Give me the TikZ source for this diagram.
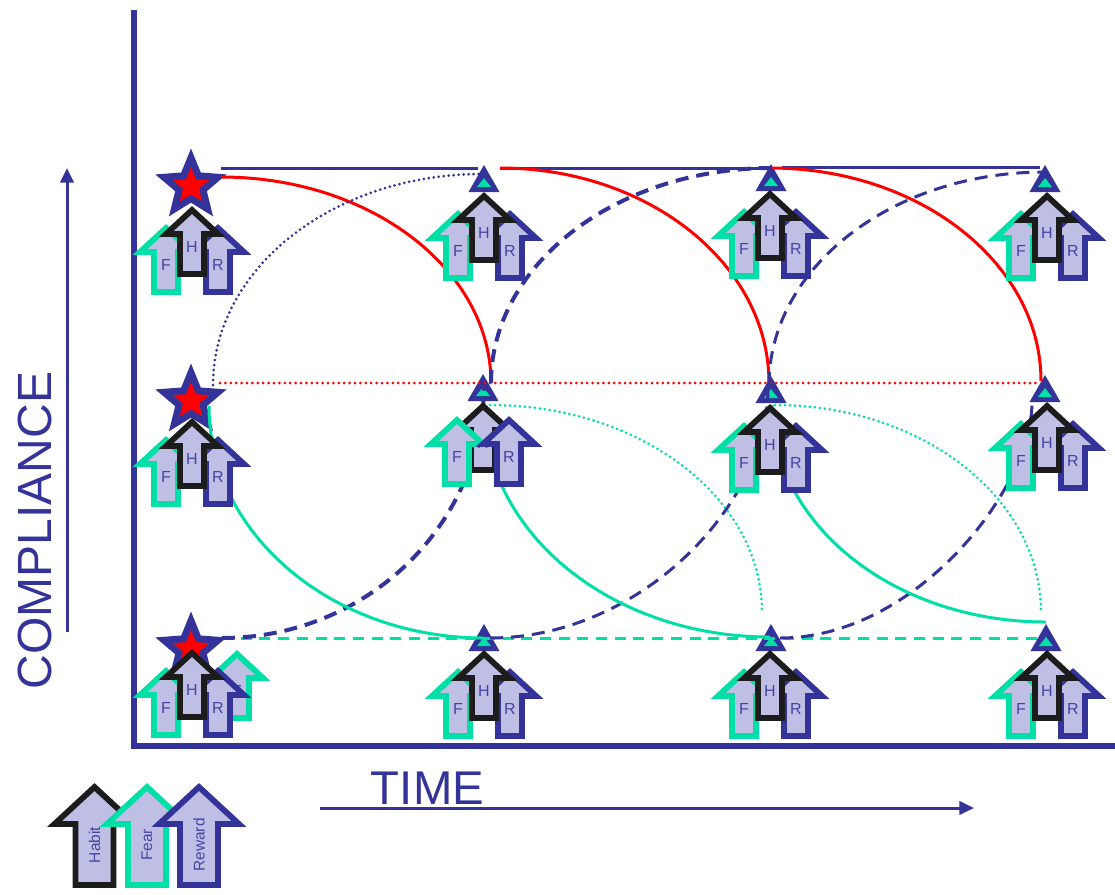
\documentclass[tikz,border=0pt]{standalone}
\usepackage{fontspec}
\setmainfont{Liberation Sans}
\usetikzlibrary{calc,shapes.geometric,arrows.meta}
\definecolor{navy}{HTML}{333399}
\definecolor{mint}{HTML}{00DFA5}
\definecolor{lilac}{HTML}{BFBFE6}
\definecolor{ink}{HTML}{1C1C1C}
\definecolor{redc}{HTML}{FF0000}
\definecolor{labelc}{HTML}{4444A4}
\tikzset{
  px/.style={line width=#1*0.75pt},
  upshape/.style={draw=#1,fill=lilac,px=5.8,miter limit=10,line join=miter},
  lab/.style={text=labelc,font=\fontsize{12}{12}\selectfont,inner sep=0pt},
  leglab/.style={text=labelc,font=\fontsize{11.6}{12}\selectfont,inner sep=0pt,rotate=90},
  bigstar/.style={star,star points=5,star point ratio=2.25,fill=navy,inner sep=0pt,outer sep=0pt,minimum size=75*0.75pt},
  redstar/.style={star,star points=5,star point ratio=2.25,fill=redc,inner sep=0pt,outer sep=0pt,minimum size=38*0.75pt},
  axisline/.style={navy,px=6},
  guide/.style={navy,px=3,-{Triangle[length=11pt,width=10pt]}},
  solidnavy/.style={navy,px=3},
  redarc/.style={redc,px=3},
  mintarc/.style={mint,px=3},
  thickdash/.style={navy,px=4,dash pattern=on 13*0.75pt off 8*0.75pt},
  thindash/.style={navy,px=3,dash pattern=on 13*0.75pt off 8*0.75pt},
  mintdash/.style={mint,px=3,dash pattern=on 11*0.75pt off 7.7*0.75pt},
  dotnavy/.style={navy,px=3,line cap=round,dash pattern=on 0pt off 5*0.75pt},
  dotred/.style={redc,px=3,line cap=round,dash pattern=on 0pt off 5.4*0.75pt},
  dotmint/.style={mint,px=3,line cap=round,dash pattern=on 0pt off 5*0.75pt},
}
% small arrow: #1 apex x, #2 apex y (centre line), #3 colour, #4 name, #5 label
\newcommand{\smallup}[5]{%
  \draw[upshape=#3] (#1,#2) -- ++(26,24) -- ++(-14,0) -- ++(0,40) -- ++(-24,0) -- ++(0,-40) -- ++(-14,0) -- cycle;
  \node[lab] (#4) at (#1,#2+37) {#5};}
% trio with the habit arrow on top: #1 x, #2 y, #3 name
\newcommand{\trio}[3]{%
  \smallup{#1-26}{#2+18}{mint}{#3F}{F}
  \smallup{#1+26}{#2+18}{navy}{#3R}{R}
  \smallup{#1}{#2}{ink}{#3H}{H}}
\newcommand{\triob}[3]{%
  \smallup{#1}{#2}{ink}{#3H}{H}
  \smallup{#1-26}{#2+14}{mint}{#3F}{F}
  \smallup{#1+26}{#2+14}{navy}{#3R}{R}}
\newcommand{\marker}[2]{%
  \fill[navy] (#1,#2) -- ++(15.5,27) -- ++(-31,0) -- cycle;
  \fill[mint] (#1,#2+13) -- ++(7,9) -- ++(-14,0) -- cycle;}
% quarter arc: horizontal first
\newcommand{\arcHV}[3]{\draw[#1] (#2) .. controls ($(#2)!.5523!(#3|-#2)$) and ($(#3)!.5523!(#3|-#2)$) .. (#3);}
% quarter arc: vertical first
\newcommand{\arcVH}[3]{\draw[#1] (#2) .. controls ($(#2)!.5523!(#2|-#3)$) and ($(#3)!.5523!(#2|-#3)$) .. (#3);}
\begin{document}
\begin{tikzpicture}[x=0.75pt,y=-0.75pt]
\useasboundingbox (0,0) rectangle (1115,894);
% axes
\coordinate (axtop) at (134,10);
\coordinate (axorigin) at (134,745.5);
\coordinate (axright) at (1115,745.5);
\draw[axisline] (axtop) -- (axorigin) -- (axright);
% axis titles and guides
\node[text=navy,font=\fontsize{36}{36}\selectfont,rotate=90,inner sep=0pt] (comp) at (35,530.5) {COMPLIANCE};
\node[text=navy,font=\fontsize{35.5}{36}\selectfont,inner sep=0pt] (time) at (427.5,788) {TIME};
\coordinate (vs) at (67,632); \coordinate (ve) at (67,168);
\coordinate (hs) at (320,808); \coordinate (he) at (974,808);
\draw[guide] (vs) -- (ve);
\draw[guide] (hs) -- (he);
% stars
\node[bigstar] (s1) at (191,186) {}; \node[redstar] (t1) at (191,186) {};
\node[bigstar] (s2) at (191,401) {}; \node[redstar] (t2) at (191,401) {};
\node[bigstar] (s3) at (191,649) {}; \node[redstar] (t3) at (191,649) {};
% markers
\marker{484}{165}\marker{771}{164}\marker{1045}{165}
\marker{483}{374}\marker{771}{376}\marker{1045}{375}
\marker{484}{624}\marker{771}{624}\marker{1046}{624}
% extra fear arrow behind
\smallup{237}{654}{mint}{xf}{F}
% connector end points
\coordinate (a1) at (221,168); \coordinate (a2) at (478,168);
\coordinate (a3) at (500,168); \coordinate (a4) at (762,168);
\coordinate (a5) at (782,167); \coordinate (a6) at (1040,167);
\draw[solidnavy] (a1) -- (a2);
\draw[solidnavy] (a3) -- (a4);
\draw[solidnavy] (a5) -- (a6);
\coordinate (d1) at (220,383); \coordinate (d2) at (1040,383);
\draw[dotred] (d1) -- (d2);
\coordinate (g1) at (222,638); \coordinate (g2) at (1046,638);
\draw[mintdash] (g1) -- (g2);
% red arcs
\coordinate (r1) at (221,177); \coordinate (r1e) at (491,383);
\coordinate (r2) at (500,168); \coordinate (r2e) at (769,383);
\coordinate (r3) at (770,168); \coordinate (r3e) at (1041,381);
\arcHV{redarc}{r1}{r1e}\arcHV{redarc}{r2}{r2e}\arcHV{redarc}{r3}{r3e}
% navy dotted
\coordinate (n1) at (213,385); \coordinate (n1e) at (482,174);
\arcVH{dotnavy}{n1}{n1e}
% navy dashed
\coordinate (k1) at (222,638); \coordinate (k1e) at (484,385);
\coordinate (k2) at (491,383); \coordinate (k2e) at (772,168);
\coordinate (k3) at (490,638); \coordinate (k3c) at (640,638); \coordinate (k3d) at (768,505); \coordinate (k3e) at (768,388);
\coordinate (k4) at (769,385); \coordinate (k4e) at (1045,172);
\coordinate (k5) at (780,638); \coordinate (k5c) at (915,638); \coordinate (k5d) at (1032,490); \coordinate (k5e) at (1032,402);
\arcHV{thickdash}{k1}{k1e}
\arcVH{thickdash}{k2}{k2e}
\draw[thindash] (k3) .. controls (k3c) and (k3d) .. (k3e);
\arcVH{thindash}{k4}{k4e}
\draw[thindash] (k5) .. controls (k5c) and (k5d) .. (k5e);
% mint solid
\coordinate (m1) at (209,406); \coordinate (m1e) at (484,638);
\coordinate (m2) at (484,405); \coordinate (m2e) at (770,637);
\coordinate (m3) at (772,405); \coordinate (m3e) at (1046,622);
\arcVH{mintarc}{m1}{m1e}\arcVH{mintarc}{m2}{m2e}\arcVH{mintarc}{m3}{m3e}
% mint dotted
\coordinate (o1) at (490,405); \coordinate (o1e) at (762,612);
\coordinate (o2) at (775,405); \coordinate (o2e) at (1041,612);
\arcHV{dotmint}{o1}{o1e}\arcHV{dotmint}{o2}{o2e}
% arrow trios
\trio{192}{210}{a}\trio{484}{196}{b}\trio{770}{194}{c}\trio{1047}{196}{d}
\trio{192}{422}{e}\triob{483}{406}{f}\trio{770}{408}{g}\trio{1047}{406}{h}
\trio{192}{653}{i}\trio{484}{654}{j}\trio{770}{654}{k}\trio{1047}{654}{l}
% legend
\newcommand{\legendup}[5]{%
  \draw[upshape=#2] (#1,787) -- ++(40,37) -- ++(-21,0) -- ++(0,61) -- ++(-38,0) -- ++(0,-61) -- ++(-21,0) -- cycle;
  \node[leglab] (#3) at (#1,#4) {#5};}
\legendup{94.5}{ink}{lh}{845}{Habit}
\legendup{147}{mint}{lf}{845}{Fear}
\legendup{199}{navy}{lr}{845}{Reward}
\end{tikzpicture}
\end{document}
